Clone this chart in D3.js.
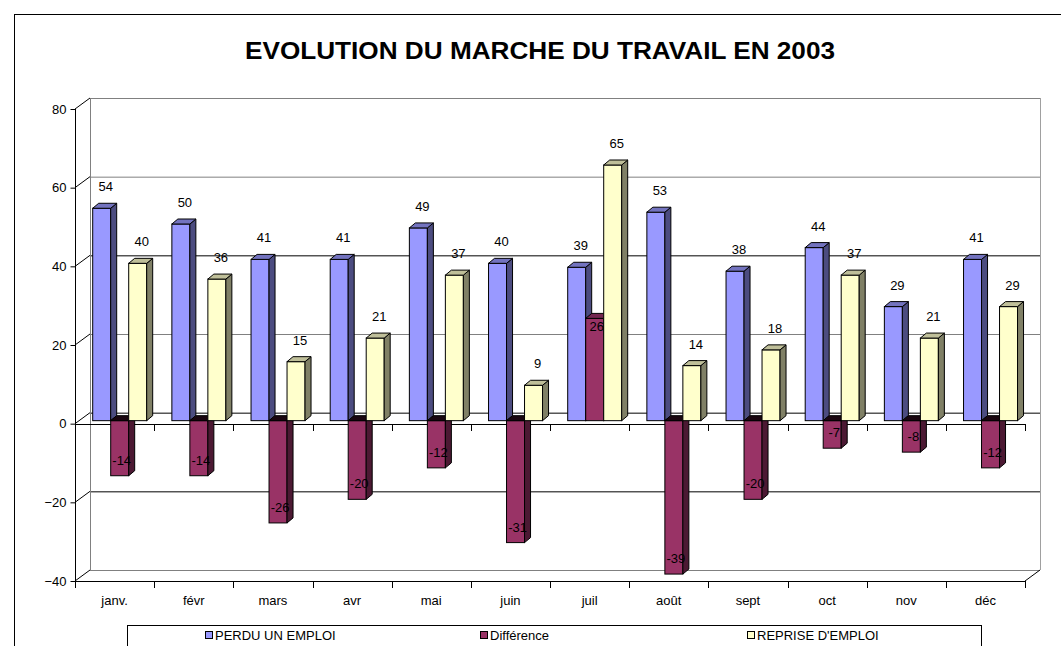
<!DOCTYPE html>
<html>
<head>
<meta charset="utf-8">
<script src="https://cdn.jsdelivr.net/npm/d3@7"></script>
<style>
  body { margin: 0; background: #fff; }
  text { font-family: Arial, "Liberation Sans", sans-serif; }
</style>
</head>
<body>
<div id="chart"></div>
<script>
const months = ["janv.", "févr", "mars", "avr", "mai", "juin", "juil", "août", "sept", "oct", "nov", "déc"]
const seriesNames = ["PERDU UN EMPLOI", "Différence", "REPRISE D'EMPLOI"]
const perdu = [54, 50, 41, 41, 49, 40, 39, 53, 38, 44, 29, 41]
const difference = [-14, -14, -26, -20, -12, -31, 26, -39, -20, -7, -8, -12]
const reprise = [40, 36, 15, 21, 37, 9, 65, 14, 18, 37, 21, 29]
const yTicks = [-40, -20, 0, 20, 40, 60, 80]

const colors = {
    "PERDU UN EMPLOI": { front: "#9999ff", side: "#4c4c80", top: "#7373bf" },
    "Différence": { front: "#993366", side: "#4c1933", top: "#732650", under: "#1a0610" },
    "REPRISE D'EMPLOI": { front: "#ffffcc", side: "#808066", top: "#bfbf99" }
}

const width = 1061
const height = 646
const left = 75, right = 1025 // front edge of the plot
const wallDx = 15, wallDy = -11 // offset of the back wall
const barDx = 6, barDy = -5 // depth of one bar

let svg = d3.select("#chart")
    .append("svg")
    .attr("width", width)
    .attr("height", height)

// chart frame, runs past the picture on the right and bottom
svg.append("rect")
    .attr("x", 14.5).attr("y", 14.5)
    .attr("width", 1100).attr("height", 700)
    .attr("fill", "#fff")
    .attr("stroke", "#000")

svg.append("text")
    .attr("x", 540)
    .attr("y", 59)
    .attr("text-anchor", "middle")
    .attr("font-size", 24)
    .attr("font-weight", "bold")
    .attr("textLength", 590)
    .attr("lengthAdjust", "spacingAndGlyphs")
    .text("EVOLUTION DU MARCHE DU TRAVAIL EN 2003")

let y = d3.scaleLinear() // front of the value axis
    .domain([-40, 80])
    .range([581, 109])

let x0 = d3.scaleBand() // months
    .domain(months)
    .range([left, right])

let x1 = d3.scaleBand() // series inside a month
    .domain(seriesNames)
    .range([17.7, 17.7 + 54])

const yBar = (v) => y(v) - 3 // bars stand a little behind the front

let wall = svg.append("g")

// back wall gridlines
yTicks.forEach((t) => {
    let edge = (t === 80 || t === -40)
    let light = (t === 60 || t === 20)
    wall.append("line")
        .attr("x1", left + wallDx).attr("x2", right + wallDx)
        .attr("y1", y(t) + wallDy + 0.5).attr("y2", y(t) + wallDy + 0.5)
        .attr("stroke", edge || light ? "#808080" : "#000")
    // side wall
    wall.append("line")
        .attr("x1", left).attr("y1", y(t))
        .attr("x2", left + wallDx).attr("y2", y(t) + wallDy)
        .attr("stroke", "#000")
})

wall.append("line") // back wall left edge
    .attr("x1", left + wallDx + 0.5).attr("x2", left + wallDx + 0.5)
    .attr("y1", y(80) + wallDy).attr("y2", y(-40) + wallDy)
    .attr("stroke", "#808080")
wall.append("line") // back wall right edge
    .attr("x1", right + wallDx + 0.5).attr("x2", right + wallDx + 0.5)
    .attr("y1", y(80) + wallDy).attr("y2", y(-40) + wallDy)
    .attr("stroke", "#a0a0a0")
wall.append("line") // floor right edge
    .attr("x1", right).attr("y1", y(-40))
    .attr("x2", right + wallDx).attr("y2", y(-40) + wallDy)
    .attr("stroke", "#000")

// value axis
svg.append("g")
    .attr("transform", "translate(" + (left + 0.5) + ",0)")
    .call(d3.axisLeft(y).tickValues(yTicks).tickSize(5).tickPadding(4).tickFormat(d3.format("d")))
    .call((g) => g.select(".domain").attr("d", "M0," + y(80) + "V" + y(-40)))
    .call((g) => g.selectAll("text").attr("font-size", 13).attr("font-family", "Arial, 'Liberation Sans', sans-serif"))

// category axis at zero and at the bottom
const boundaries = months.map((m) => x0(m)).concat([right])
;[0, -40].forEach((v) => {
    let g = svg.append("g")
    g.append("line")
        .attr("x1", left).attr("x2", right)
        .attr("y1", Math.round(y(v)) + 0.5).attr("y2", Math.round(y(v)) + 0.5)
        .attr("stroke", "#000")
    g.selectAll("tick").data(boundaries).enter()
        .append("line")
        .attr("x1", (d) => Math.round(d) + 0.5).attr("x2", (d) => Math.round(d) + 0.5)
        .attr("y1", Math.round(y(v))).attr("y2", Math.round(y(v)) + 7)
        .attr("stroke", "#000")
})

svg.append("g").selectAll("text").data(months).enter()
    .append("text")
    .attr("x", (d) => x0(d) + x0.bandwidth() / 2)
    .attr("y", 605)
    .attr("text-anchor", "middle")
    .attr("font-size", 13)
    .text((d) => d)

// one record per bar, left to right so the next bar hides the side of the previous one
let bars = []
months.forEach((m, i) => {
    bars.push({ month: m, series: seriesNames[0], value: perdu[i] })
    bars.push({ month: m, series: seriesNames[1], value: difference[i] })
    bars.push({ month: m, series: seriesNames[2], value: reprise[i] })
})

let barG = svg.append("g")
bars.forEach((d) => {
    let x = x0(d.month) + x1(d.series)
    let w = x1.bandwidth()
    let yTop = yBar(Math.max(d.value, 0))
    let yBot = yBar(Math.min(d.value, 0))
    let c = colors[d.series]
    let g = barG.append("g")
    g.append("rect") // front face
        .attr("x", x).attr("y", yTop)
        .attr("width", w).attr("height", yBot - yTop)
        .attr("fill", c.front)
        .attr("stroke", "#000")
    g.append("path") // right face
        .attr("d", "M" + (x + w) + "," + yTop + "l" + barDx + "," + barDy + "V" + (yBot + barDy) + "l" + (-barDx) + "," + (-barDy) + "Z")
        .attr("fill", c.side)
        .attr("stroke", "#000")
    g.append("path") // top face
        .attr("d", "M" + x + "," + yTop + "l" + barDx + "," + barDy + "h" + w + "l" + (-barDx) + "," + (-barDy) + "Z")
        .attr("fill", d.value < 0 ? c.under : c.top)
        .attr("stroke", "#000")
})

// data labels
let labels = svg.append("g").selectAll("text").data(bars).enter()
    .append("text")
    .attr("text-anchor", "middle")
    .attr("font-size", 13)
    .attr("x", (d) => x0(d.month) + x1(d.series) + x1.bandwidth() / 2 + (d.series === "Différence" ? 2 : 4))
    .attr("y", (d) => {
        if (d.series === "Différence") {
            return d.value < 0 ? yBar(d.value) - 16 + 5 : yBar(d.value) + 8 + 5
        }
        return yBar(d.value) - 22 + 5
    })
    .text((d) => d.value)

// legend
let legend = svg.append("g")
legend.append("rect")
    .attr("x", 127.5).attr("y", 625.5)
    .attr("width", 854).attr("height", 60)
    .attr("fill", "#fff")
    .attr("stroke", "#000")

const legendX = [205, 480, 747]
seriesNames.forEach((s, i) => {
    legend.append("rect")
        .attr("x", legendX[i] + 0.5).attr("y", 631.5)
        .attr("width", 7).attr("height", 7)
        .attr("fill", colors[s].front)
        .attr("stroke", "#000")
    legend.append("text")
        .attr("x", legendX[i] + 10)
        .attr("y", 640)
        .attr("font-size", 13)
        .text(s)
})
</script>
</body>
</html>
